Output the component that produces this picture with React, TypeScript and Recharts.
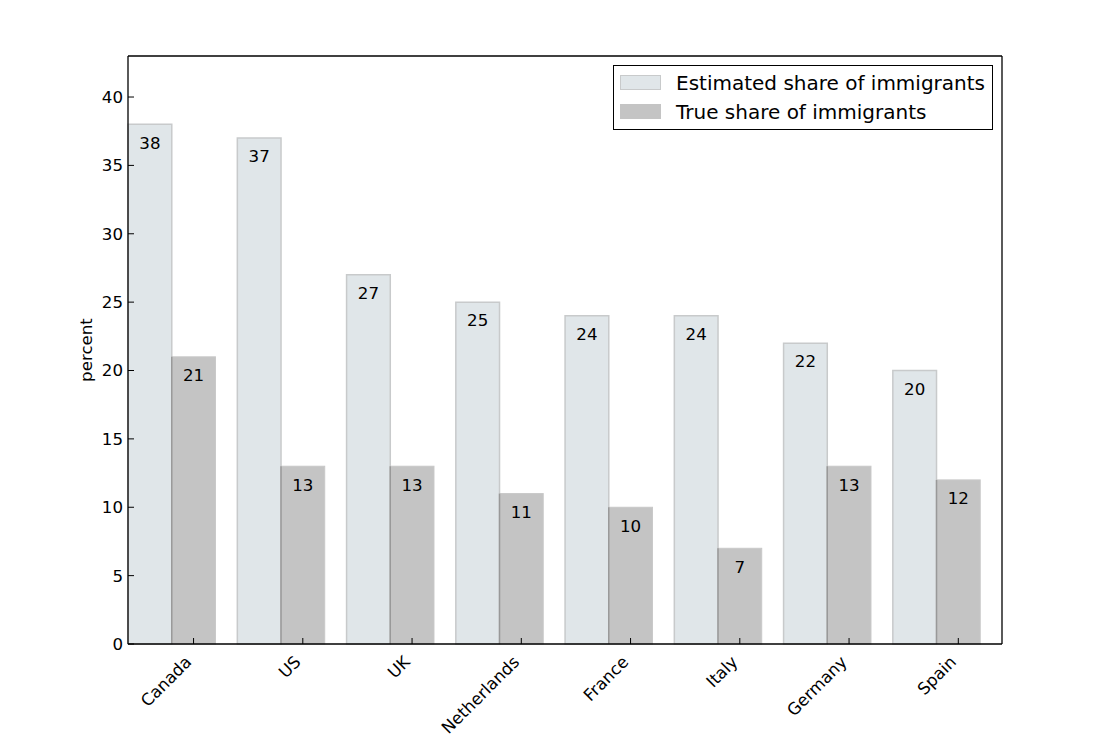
import { Bar, BarChart, LabelList, Legend, XAxis, YAxis } from "recharts";

const countries = ["Canada", "US", "UK", "Netherlands", "France", "Italy", "Germany", "Spain"];
const estimatedShare = [38, 37, 27, 25, 24, 24, 22, 20];
const trueShare = [21, 13, 13, 11, 10, 7, 13, 12];
const yTicks = [0, 5, 10, 15, 20, 25, 30, 35, 40];

const FONT = '"DejaVu Sans", sans-serif';
const TICK_FONT = 16.67;

// bars are laid out like matplotlib: group i spans [i, i + 2*w], tick under the second bar
const W = 0.4;
const PLOT_WIDTH = 874;
const BAR_PX = (PLOT_WIDTH / countries.length) * W;

const rows = countries.map((country, i) => ({
  country,
  pos: i + W,
  estimated: estimatedShare[i],
  actual: trueShare[i],
}));
const xTicks = countries.map((_, i) => i + 1.5 * W);

const axisLine = { stroke: "#000", strokeWidth: 1.3 };
const tickLine = { stroke: "#000", strokeWidth: 1 };

function CountryTick(props: any) {
  const { x, payload } = props;
  const ax = x - 1;
  const ay = 644 + 19;
  return (
    <text
      x={ax}
      y={ay}
      transform={`rotate(-45 ${ax} ${ay})`}
      textAnchor="end"
      fontFamily={FONT}
      fontSize={TICK_FONT}
      fill="#000"
    >
      {countries[Math.floor(payload.value)]}
    </text>
  );
}

function TrueBar(props: any) {
  const { x, y, width, height, fill } = props;
  return (
    <g>
      <rect x={x} y={y} width={width} height={height} fill={fill} stroke="#c8c8c8" strokeWidth={1} />
      <line x1={x} y1={y} x2={x} y2={y + height} stroke="#999" strokeWidth={1.5} />
    </g>
  );
}

function PercentLabel(props: any) {
  const { viewBox } = props;
  const x = viewBox.x + 18;
  const y = viewBox.y + viewBox.height / 2;
  return (
    <text
      x={x}
      y={y}
      transform={`rotate(-90 ${x} ${y})`}
      textAnchor="middle"
      dominantBaseline="central"
      fontFamily={FONT}
      fontSize={TICK_FONT}
      fill="#000"
    >
      percent
    </text>
  );
}

function LegendBox(props: any) {
  const items = props.payload || [];
  return (
    <div
      style={{
        border: "1.3px solid #000",
        background: "#fff",
        padding: "2px 0 3px 6px",
        fontFamily: FONT,
        fontSize: 20,
        boxSizing: "border-box",
        width: 380,
      }}
    >
      {items.map((entry: any) => (
        <div key={entry.value} style={{ display: "flex", alignItems: "center", height: 29 }}>
          <span
            style={{
              display: "inline-block",
              width: 41,
              height: 15,
              background: entry.color,
              border: `1.5px solid ${entry.payload?.stroke ?? entry.color}`,
              boxSizing: "border-box",
              marginRight: 15,
            }}
          />
          <span style={{ color: "#000", whiteSpace: "nowrap" }}>{entry.value}</span>
        </div>
      ))}
    </div>
  );
}

export default function App() {
  return (
    <div style={{ position: "absolute", left: 0, top: 0, width: 1101, height: 751, background: "#fff" }}>
      <BarChart
        width={1101}
        height={751}
        data={rows}
        margin={{ top: 46, right: 89, bottom: 77, left: 68 }}
        barGap={0}
        style={{ fontFamily: FONT }}
      >
        <XAxis
          dataKey="pos"
          type="number"
          domain={[0, countries.length]}
          ticks={xTicks}
          interval={0}
          height={30}
          axisLine={axisLine}
          tickLine={tickLine}
          tickSize={-6}
          tick={<CountryTick />}
        />
        <XAxis
          xAxisId="top"
          orientation="top"
          type="number"
          domain={[0, countries.length]}
          ticks={xTicks}
          interval={0}
          height={10}
          axisLine={axisLine}
          tickLine={tickLine}
          tickSize={-6}
          tick={false}
        />
        <YAxis
          domain={[0, 43]}
          ticks={yTicks}
          interval={0}
          width={60}
          axisLine={axisLine}
          tickLine={tickLine}
          tickSize={-6}
          tickMargin={11}
          tick={{ fill: "#000", fontSize: TICK_FONT, fontFamily: FONT }}
          label={<PercentLabel />}
        />
        <YAxis
          yAxisId="right"
          orientation="right"
          domain={[0, 43]}
          ticks={yTicks}
          interval={0}
          width={10}
          axisLine={axisLine}
          tickLine={tickLine}
          tickSize={-6}
          tick={false}
        />
        <Legend
          layout="horizontal"
          verticalAlign="middle"
          align="center"
          wrapperStyle={{ left: 613, top: 65, width: 380 }}
          content={<LegendBox />}
        />
        <Bar
          dataKey="estimated"
          name="Estimated share of immigrants"
          fill="#e0e6e9"
          stroke="#c8cacb"
          strokeWidth={1.5}
          barSize={BAR_PX}
          isAnimationActive={false}
        >
          <LabelList
            dataKey="estimated"
            position="insideTop"
            offset={12.5}
            fill="#000"
            fontSize={TICK_FONT}
            fontFamily={FONT}
          />
        </Bar>
        <Bar
          dataKey="actual"
          name="True share of immigrants"
          fill="#c4c4c4"
          barSize={BAR_PX}
          shape={<TrueBar />}
          isAnimationActive={false}
        >
          <LabelList
            dataKey="actual"
            position="insideTop"
            offset={12.5}
            fill="#000"
            fontSize={TICK_FONT}
            fontFamily={FONT}
          />
        </Bar>
      </BarChart>
    </div>
  );
}
